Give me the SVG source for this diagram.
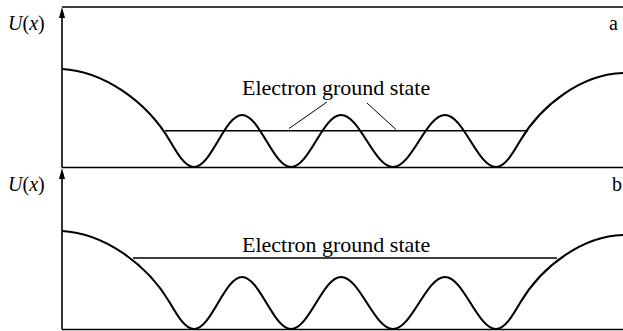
<svg xmlns="http://www.w3.org/2000/svg" width="623" height="331" viewBox="0 0 623 331" font-family="Liberation Serif, serif">
<defs>
<path id="pot" d="M62,69 C102,71 146,100.2 170,141 C178,154.7 185.4,167 194,167 C211.4,167 224.6,115 242,115 C259.8,115 273.2,167 291,167 C309.2,167 322.8,115 341,115 C359.9,115 374.1,167 393,167 C411.9,167 426.1,115 445,115 C463.5,115 477.5,167 496,167 C504.6,167 512,154.65 520,141 C542,103.6 583,74 623,73"/>
</defs>
<g id="panel-a" stroke="#000" fill="none">
<line stroke-width="1.6" x1="62" y1="7" x2="623" y2="7"/>
<line stroke-width="1.6" x1="62" y1="167.5" x2="623" y2="167.5"/>
<line stroke-width="1.6" x1="62" y1="167.5" x2="62" y2="16"/>
<path d="M62,7 L59,18 L65,18 Z" fill="#000" stroke="none"/>
<use href="#pot" stroke-width="2.1"/>
<line stroke-width="1.4" x1="165" y1="130.7" x2="528" y2="130.7"/>
<g id="leaders-a" stroke-width="1">
<line x1="327" y1="102" x2="289" y2="128.5"/>
<line x1="367" y1="103" x2="396" y2="129.5"/>
</g>
</g>
<g id="panel-b" stroke="#000" fill="none">
<line stroke-width="1.6" x1="62" y1="329.5" x2="623" y2="329.5"/>
<line stroke-width="1.6" x1="62" y1="329.5" x2="62" y2="177"/>
<path d="M62,168 L59,179 L65,179 Z" fill="#000" stroke="none"/>
<use href="#pot" stroke-width="2.1" transform="translate(0,162)"/>
<line stroke-width="1.4" x1="133" y1="258" x2="557" y2="258"/>
</g>
<text x="8" y="30" font-size="20" font-family="Liberation Serif"><tspan font-style="italic">U</tspan>(<tspan font-style="italic">x</tspan>)</text>
<text x="609" y="30" font-size="20" font-family="Liberation Serif">a</text>
<text x="242" y="94.5" font-size="22" font-family="Liberation Serif">Electron ground state</text>
<text x="8" y="191" font-size="20" font-family="Liberation Serif"><tspan font-style="italic">U</tspan>(<tspan font-style="italic">x</tspan>)</text>
<text x="612" y="191" font-size="20" font-family="Liberation Serif">b</text>
<text x="242" y="252" font-size="22" font-family="Liberation Serif">Electron ground state</text>
</svg>
